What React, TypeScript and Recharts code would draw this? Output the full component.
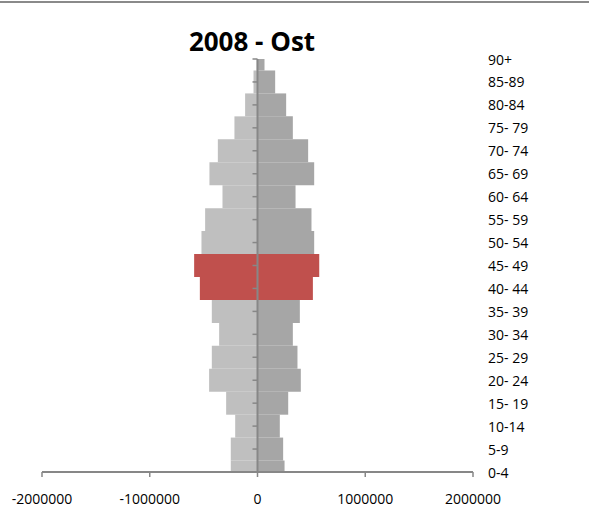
import { BarChart, Bar, XAxis, YAxis, ReferenceLine, Cell } from 'recharts';

// age groups, bottom to top
const ageGroups = ['0-4', '5-9', '10-14', '15-19', '20-24', '25-29', '30-34', '35-39', '40-44', '45-49',
  '50-54', '55-59', '60-64', '65-69', '70-74', '75-79', '80-84', '85-89', '90+'];
const ageLabels = ['0-4', '5-9', '10-14', '15- 19', '20- 24', '25- 29', '30- 34', '35- 39', '40- 44', '45- 49',
  '50- 54', '55- 59', '60- 64', '65- 69', '70- 74', '75- 79', '80-84', '85-89', '90+'];
// left side (drawn negative)
const maenner = [248000, 248000, 207000, 291000, 449000, 424000, 356000, 424000, 535000, 588000,
  520000, 486000, 325000, 446000, 368000, 214000, 115000, 37000, 8000];
// right side
const frauen = [251000, 238000, 207000, 285000, 402000, 371000, 328000, 393000, 514000, 573000,
  526000, 501000, 353000, 526000, 470000, 328000, 266000, 164000, 65000];
const highlighted = ['40-44', '45-49'];
const xTicks = [-2000000, -1000000, 0, 1000000, 2000000];

const W = 589;
const H = 520;
const M = { top: 59, right: 56, bottom: 18, left: 42 };
const Y_AXIS_W = 60;
const X_AXIS_H = 30;
const PLOT_RIGHT = W - M.right - Y_AXIS_W;
const PLOT_BOTTOM = H - M.bottom - X_AXIS_H;
const ZERO_X = M.left + (PLOT_RIGHT - M.left) / 2;

const AXIS = '#878787';
const FONT = '"Open Sans", sans-serif';

const data = ageGroups.map((g, i) => ({
  idx: i,
  group: g,
  maenner: -maenner[i],
  frauen: frauen[i],
}));

const AgeTick = (props: any) => {
  const { y, payload } = props;
  return (
    <g>
      <line x1={ZERO_X - 5} x2={ZERO_X} y1={y} y2={y} stroke={AXIS} strokeWidth={1.5} />
      <text x={PLOT_RIGHT + 15} y={y} dominantBaseline="central" fontSize={14} fontFamily={FONT} fill="#000">
        {ageLabels[payload.value]}
      </text>
    </g>
  );
};

const ValueTick = (props: any) => {
  const { x, payload } = props;
  return (
    <g>
      <line x1={x} x2={x} y1={PLOT_BOTTOM} y2={PLOT_BOTTOM + 5} stroke={AXIS} strokeWidth={1.5} />
      <text x={x} y={PLOT_BOTTOM + 26.5} textAnchor="middle" dominantBaseline="central" fontSize={14} fontFamily={FONT} fill="#000">
        {String(payload.value)}
      </text>
    </g>
  );
};

const App = () => {
  return (
    <div style={{ position: 'absolute', left: 0, top: 0, width: W, height: H, background: '#fff' }}>
      <div style={{ position: 'absolute', left: 0, top: 1, width: W, height: 2, background: '#8a8a8a' }} />
      <svg style={{ position: 'absolute', left: 0, top: 0 }} width={W} height={60}>
        <text x={252} y={50.5} textAnchor="middle" fontFamily={FONT} fontWeight={700} fontSize={26} fill="#000">
          2008 - Ost
        </text>
      </svg>
      <BarChart
        width={W}
        height={H}
        data={data}
        layout="vertical"
        stackOffset="sign"
        barCategoryGap={0}
        margin={M}
      >
        <XAxis
          type="number"
          domain={[-2000000, 2000000]}
          ticks={xTicks}
          allowDataOverflow
          height={X_AXIS_H}
          axisLine={{ stroke: AXIS, strokeWidth: 2 }}
          tickLine={false}
          tick={<ValueTick />}
        />
        <YAxis
          type="number"
          dataKey="idx"
          orientation="right"
          reversed
          domain={[0, ageGroups.length - 1]}
          ticks={ageGroups.map((_, i) => i)}
          interval={0}
          allowDataOverflow
          width={Y_AXIS_W}
          axisLine={false}
          tickLine={false}
          tick={<AgeTick />}
        />
        <Bar dataKey="maenner" stackId="a" isAnimationActive={false} fill="#BFBFBF">
          {data.map((d) => (
            <Cell key={d.group} fill={highlighted.includes(d.group) ? '#C0504D' : '#BFBFBF'} />
          ))}
        </Bar>
        <Bar dataKey="frauen" stackId="a" isAnimationActive={false} fill="#A6A6A6">
          {data.map((d) => (
            <Cell key={d.group} fill={highlighted.includes(d.group) ? '#C0504D' : '#A6A6A6'} />
          ))}
        </Bar>
        <ReferenceLine x={0} stroke={AXIS} strokeWidth={2} />
      </BarChart>
    </div>
  );
};

export default App;
